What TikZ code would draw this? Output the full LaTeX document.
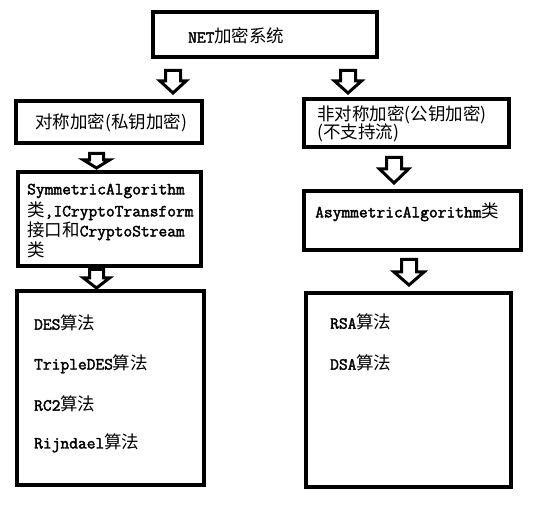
\documentclass[tikz,border=0pt]{standalone}
\usepackage{fontspec}
\setmainfont{Latin Modern Mono}[AutoFakeBold=2.2]
\newfontfamily\cjkfont{Noto Sans CJK SC}
\newcommand\zh[1]{{\cjkfont\mdseries\fontsize{17.5}{20}\selectfont #1}}
\newcommand\blockarrow[6]{% cx, top, headstart, tip, shafthalf, headhalf
  \draw[barrow] (#1-#5,#2) -- (#1+#5,#2) -- (#1+#5,#3) -- (#1+#6,#3) -- (#1,#4)
     -- (#1-#6,#3) -- (#1-#5,#3) -- cycle;}
\begin{document}
\begin{tikzpicture}[x=1pt,y=-1pt,
  box/.style={draw, line width=4pt, inner sep=0pt, rectangle},
  txt/.style={anchor=west, inner sep=0pt, font=\bfseries\fontsize{17}{20}\selectfont},
  barrow/.style={draw, line width=3pt, fill=white, line join=miter}]
\useasboundingbox (0,0) rectangle (541,510);
\fill[white] (0,0) rectangle (541,510);
% boxes
\node[box, minimum width=224pt, minimum height=45pt] (top) at (265,35) {};
\node[box, minimum width=186pt, minimum height=42pt] (l1) at (109,122) {};
\node[box, minimum width=183pt, minimum height=94pt] (l2) at (109.5,219) {};
\node[box, minimum width=187pt, minimum height=193pt] (l3) at (110,388) {};
\node[box, minimum width=205pt, minimum height=48pt] (r1) at (406.5,123) {};
\node[box, minimum width=217pt, minimum height=59pt] (r2) at (412.5,220.5) {};
\node[box, minimum width=205pt, minimum height=194pt] (r3) at (408.5,390) {};
% texts
\node[txt] (ttop) at (188,36) {NET\zh{加密系统}};
\node[txt] (tl1) at (35,123) {\zh{对称加密(私钥加密)}};
\node[txt] (tl2a) at (27,191) {SymmetricAlgorithm};
\node[txt] (tl2b) at (27,211) {\zh{类},ICryptoTransform};
\node[txt] (tl2c) at (27,231) {\zh{接口和}CryptoStream};
\node[txt] (tl2d) at (27,250) {\zh{类}};
\node[txt] (tl3a) at (34,323) {DES\zh{算法}};
\node[txt] (tl3b) at (34,364) {TripleDES\zh{算法}};
\node[txt] (tl3c) at (34,404) {RC2\zh{算法}};
\node[txt] (tl3d) at (34,443) {Rijndael\zh{算法}};
\node[txt] (tr1a) at (317,115) {\zh{非对称加密(公钥加密)}};
\node[txt] (tr1b) at (317,133) {\zh{(不支持流)}};
\node[txt] (tr2) at (315,212) {AsymmetricAlgorithm\zh{类}};
\node[txt] (tr3a) at (330,322) {RSA\zh{算法}};
\node[txt] (tr3b) at (330,363) {DSA\zh{算法}};
% block arrows
\blockarrow{173}{70.5}{81}{93}{7.5}{13}
\blockarrow{348}{70.5}{81}{93}{7.5}{13.5}
\blockarrow{96.5}{153.5}{160}{168}{7}{13}
\blockarrow{394}{157.5}{169}{183}{7.5}{14.5}
\blockarrow{96.5}{269.5}{278}{288}{7}{13}
\blockarrow{409}{259.5}{272}{285}{7.5}{15}
\end{tikzpicture}
\end{document}
